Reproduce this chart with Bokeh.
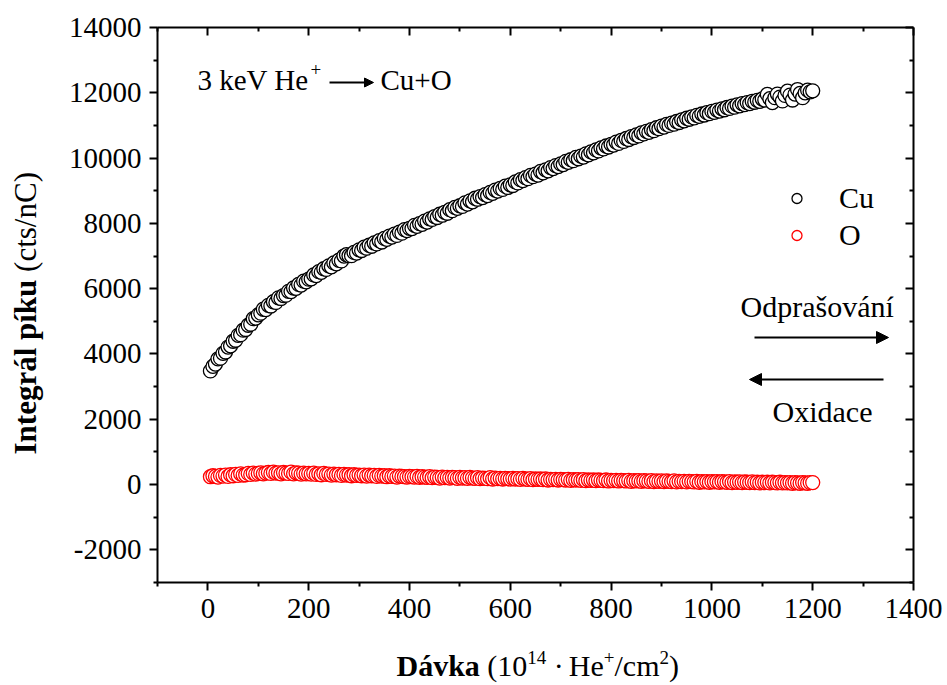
import math
from bokeh.plotting import figure
from bokeh.layouts import row, column
from bokeh.models import (LinearAxis, FixedTicker, Range1d, Label, Arrow, NormalHead,
                          Legend, LegendItem, ColumnDataSource)
from bokeh.embed import file_html
from bokeh.resources import INLINE

# ---------------- data ----------------
dose = [5 * i for i in range(1, 241)]  # doses 5, 10, ..., 1200 (x positions of the samples)

cu = [3480, 3620, 3690, 3850, 3870, 4020, 4060, 4210, 4250, 4390, 4420, 4570, 4590, 4730, 4750, 4880, 4910, 5080, 5100, 5200,
      5250, 5370, 5360, 5490, 5470, 5600, 5580, 5720, 5700, 5790, 5800, 5920, 5910, 6020, 6010, 6130, 6110, 6230, 6210, 6290,
      6300, 6420, 6400, 6520, 6500, 6610, 6590, 6700, 6670, 6790, 6760, 6870, 6850, 7000, 7040, 7010, 7010, 7110, 7090, 7190,
      7170, 7270, 7240, 7330, 7300, 7400, 7370, 7470, 7430, 7540, 7510, 7610, 7580, 7670, 7630, 7730, 7700, 7810, 7780, 7850,
      7840, 7940, 7910, 7990, 7970, 8070, 8040, 8140, 8120, 8210, 8180, 8280, 8250, 8340, 8310, 8420, 8390, 8490, 8460, 8540,
      8520, 8630, 8590, 8690, 8660, 8770, 8740, 8820, 8790, 8880, 8850, 8950, 8920, 9020, 8990, 9070, 9040, 9140, 9100, 9180,
      9160, 9270, 9240, 9340, 9310, 9400, 9370, 9470, 9430, 9510, 9480, 9590, 9550, 9640, 9610, 9710, 9680, 9770, 9740, 9820,
      9800, 9900, 9870, 9950, 9920, 10020, 9980, 10060, 10030, 10130, 10100, 10190, 10160, 10250, 10220, 10310, 10280, 10370, 10340, 10420,
      10400, 10490, 10450, 10540, 10510, 10600, 10570, 10660, 10630, 10710, 10680, 10770, 10740, 10820, 10790, 10870, 10840, 10930, 10900, 10980,
      10950, 11030, 11000, 11070, 11040, 11120, 11090, 11170, 11140, 11220, 11190, 11260, 11230, 11310, 11280, 11350, 11320, 11390, 11360, 11430,
      11400, 11470, 11440, 11510, 11480, 11550, 11520, 11590, 11560, 11630, 11600, 11670, 11640, 11700, 11670, 11740, 11710, 11770, 11740, 11810,
      11780, 11950, 11820, 11700, 11850, 11960, 11870, 11750, 11920, 12050, 11930, 11780, 11960, 12100, 11980, 11850, 12000, 12080, 12030, 12060]

o = [240, 270, 250, 230, 280, 260, 290, 250, 300, 270, 310, 280, 330, 290, 300, 340, 310, 350, 320, 340,
     360, 330, 350, 370, 340, 380, 350, 360, 330, 370, 350, 340, 380, 330, 360, 350, 320, 350, 330, 340,
     320, 350, 310, 330, 300, 340, 310, 320, 290, 320, 300, 310, 280, 310, 290, 300, 270, 300, 280, 290,
     270, 290, 260, 290, 270, 280, 250, 280, 260, 270, 240, 270, 250, 260, 230, 260, 250, 240, 230, 250,
     240, 230, 250, 220, 240, 230, 220, 240, 210, 230, 220, 200, 230, 210, 220, 200, 220, 210, 190, 220,
     200, 210, 190, 220, 200, 190, 210, 180, 200, 190, 180, 210, 170, 200, 180, 190, 170, 190, 180, 170,
     190, 170, 180, 160, 190, 170, 160, 180, 150, 170, 160, 170, 150, 170, 140, 160, 150, 160, 140, 160,
     150, 140, 160, 130, 150, 140, 150, 130, 150, 120, 140, 130, 140, 120, 140, 130, 120, 140, 110, 130,
     120, 130, 110, 130, 120, 110, 130, 100, 120, 110, 120, 100, 120, 110, 100, 120, 90, 110, 100, 110,
     90, 110, 100, 90, 110, 80, 100, 90, 100, 80, 100, 90, 80, 100, 70, 90, 80, 90, 70, 90,
     80, 90, 70, 90, 80, 70, 90, 60, 80, 70, 80, 60, 80, 70, 60, 80, 60, 70, 50, 70,
     60, 70, 50, 70, 60, 50, 70, 50, 60, 50, 60, 40, 60, 50, 40, 60, 50, 40, 60, 60]

x_major = [0, 200, 400, 600, 800, 1000, 1200, 1400]
x_minor = [-100, 100, 300, 500, 700, 900, 1100, 1300]
y_major = [-2000, 0, 2000, 4000, 6000, 8000, 10000, 12000, 14000]
y_minor = [-3000, -1000, 1000, 3000, 5000, 7000, 9000, 11000, 13000]

FONT = "Liberation Serif"
W, H = 947, 685
YT_W = 60            # strip on the left holding the rotated y title
XT_H = 45            # strip at the bottom holding the x title
L, R, T, B = 157, 913, 27, 582   # frame edges in page pixels
X0, X1, Y0, Y1 = -100, 1400, -3000, 14000
BL = 0.34            # baseline correction (fraction of font size)


def dx(px):
    return X0 + (px - L) * (X1 - X0) / (R - L)


def dy(py):
    return Y1 - (py - T) * (Y1 - Y0) / (B - T)


main_w, main_h = W - YT_W, H - XT_H
p = figure(width=main_w, height=main_h, x_range=Range1d(X0, X1), y_range=Range1d(Y0, Y1),
           output_backend="svg", toolbar_location=None, title=None,
           min_border_left=L - YT_W, min_border_right=W - R, min_border_top=T,
           min_border_bottom=main_h - B,
           x_axis_location=None, y_axis_location=None)
p.grid.visible = False
p.outline_line_color = None


def make_axis(ticks, minor, show_labels, inward):
    ax = LinearAxis(ticker=FixedTicker(ticks=ticks, minor_ticks=minor))
    ax.axis_line_width = 2
    ax.axis_line_color = "black"
    ax.major_tick_line_width = 2
    ax.minor_tick_line_width = 2
    ax.major_tick_line_color = "black"
    ax.minor_tick_line_color = "black"
    if inward:
        ax.major_tick_in, ax.major_tick_out = 8, 0
        ax.minor_tick_in, ax.minor_tick_out = 4, 0
    else:
        ax.major_tick_in, ax.major_tick_out = 0, 8
        ax.minor_tick_in, ax.minor_tick_out = 0, 4
    if show_labels:
        ax.major_label_text_font = FONT
        ax.major_label_text_font_size = "29px"
        ax.major_label_text_color = "black"
        ax.major_label_standoff = 8
        ax.major_label_overrides = {t: str(t) for t in ticks}
    else:
        ax.major_label_overrides = {t: "" for t in ticks}
        ax.major_label_text_color = None
        ax.major_label_standoff = 0
    return ax


p.add_layout(make_axis(x_major, x_minor, True, False), "below")
p.add_layout(make_axis(y_major, y_minor, True, False), "left")
p.add_layout(make_axis(x_major, x_minor, False, True), "above")
p.add_layout(make_axis(y_major, y_minor, False, True), "right")

src_cu = ColumnDataSource(dict(x=dose, y=cu))
src_o = ColumnDataSource(dict(x=dose, y=o))
r_cu = p.scatter("x", "y", source=src_cu, marker="circle", size=14, line_color="black",
                 fill_color="white", line_width=1.3)
r_o = p.scatter("x", "y", source=src_o, marker="circle", size=14, line_color="red",
                fill_color="white", line_width=1.3)

legend = Legend(items=[LegendItem(label="Cu", renderers=[r_cu]), LegendItem(label="O", renderers=[r_o])],
                location=(784 - L, B - 252), padding=0, margin=0, spacing=3,
                glyph_width=25, glyph_height=30, label_height=30, label_standoff=30,
                label_text_font=FONT, label_text_font_size="30px", label_text_color="black",
                border_line_color=None, background_fill_alpha=0)
p.add_layout(legend, "center")


def lab(fig, text, x, y, size=29, bold=False, angle=0.0):
    fig.add_layout(Label(x=x, y=y, text=text, text_font=FONT, text_font_size=f"{size}px",
                         text_font_style="bold" if bold else "normal", angle=angle,
                         text_baseline="alphabetic", text_align="left", text_color="black"))


# inset label: 3 keV He+ -> Cu+O   (page-pixel baselines, corrected)
lab(p, "3 keV He", dx(197), dy(89 - BL * 29))
lab(p, "+", dx(310), dy(75 - BL * 19), size=19)
p.add_layout(Arrow(end=NormalHead(size=9, fill_color="black", line_color="black"),
                   x_start=dx(329), y_start=dy(82), x_end=dx(373), y_end=dy(82),
                   line_width=2, line_color="black"))
lab(p, "Cu+O", dx(380), dy(89 - BL * 29))

# sputtering / oxidation arrows
lab(p, "Odprašování", dx(740), dy(316 - BL * 30), size=30)
p.add_layout(Arrow(end=NormalHead(size=12, fill_color="black", line_color="black"),
                   x_start=dx(754), y_start=dy(337), x_end=dx(888), y_end=dy(337),
                   line_width=2, line_color="black"))
p.add_layout(Arrow(end=NormalHead(size=12, fill_color="black", line_color="black"),
                   x_start=dx(883), y_start=dy(379), x_end=dx(749), y_end=dy(379),
                   line_width=2, line_color="black"))
lab(p, "Oxidace", dx(772), dy(421 - BL * 30), size=30)

# --- widths of Times-like glyphs (per em) for laying out mixed-style titles ---
WN = {'(': .333, ')': .333, ' ': .25, '·': .25, 'H': .722, 'e': .444, '+': .564, '/': .278, 'c': .444,
      'm': .778, 't': .278, 's': .389, 'n': .5, 'C': .667, 'u': .5}
WB = {'D': .722, 'á': .5, 'v': .5, 'k': .556, 'a': .5, 'I': .389, 'n': .556, 't': .333, 'e': .444,
      'g': .5, 'r': .444, 'l': .278, ' ': .25, 'p': .556, 'í': .278, 'u': .556}


def width(text, size, bold=False):
    tbl = WB if bold else WN
    return sum(tbl.get(ch, .5) for ch in text) * size


def strip(w, h, xr, yr, **borders):
    f = figure(width=w, height=h, x_range=Range1d(*xr), y_range=Range1d(*yr),
               output_backend="svg", toolbar_location=None, title=None,
               x_axis_location=None, y_axis_location=None, **borders)
    f.grid.visible = False
    f.outline_line_color = None
    return f


# x title strip: frame aligned with main frame, coordinates are page pixels (y downwards)
xt = strip(main_w, XT_H, (L, R), (H, H - XT_H),
           min_border_left=L - YT_W, min_border_right=W - R, min_border_top=0, min_border_bottom=0)
fs, ss = 30, 19
base = 675
xp = 396
for t, s, b, off in [("Dávka", fs, True, 0), ("(10", fs, False, 0), ("14", ss, False, -12),
                     ("· He", fs, False, 0), ("+", ss, False, -12), ("/cm", fs, False, 0),
                     ("2", ss, False, -12), (")", fs, False, 0)]:
    if t in ("(10", "· He"):
        xp += width(" ", fs)
    if t == "· He":
        lab(xt, "·", xp, base - BL * s, size=s)
        xp += width("· ", fs)
        t = "He"
    lab(xt, t, xp, base + off - BL * s, size=s, bold=b)
    xp += width(t, s, b)

# y title strip (page pixel coordinates)
yt = strip(YT_W, H, (0, YT_W), (H, 0), min_border=0)
yp = 454
for t, b in [("Integrál píku", True), ("(cts/nC)", False)]:
    lab(yt, t, 36 - BL * 31, yp, size=31, bold=b, angle=math.pi / 2)
    yp -= width(t, 31, b) + width(" ", 31)

layout = row(yt, column(p, xt, spacing=0), spacing=0)
open("out.html", "w").write(file_html(layout, INLINE))
